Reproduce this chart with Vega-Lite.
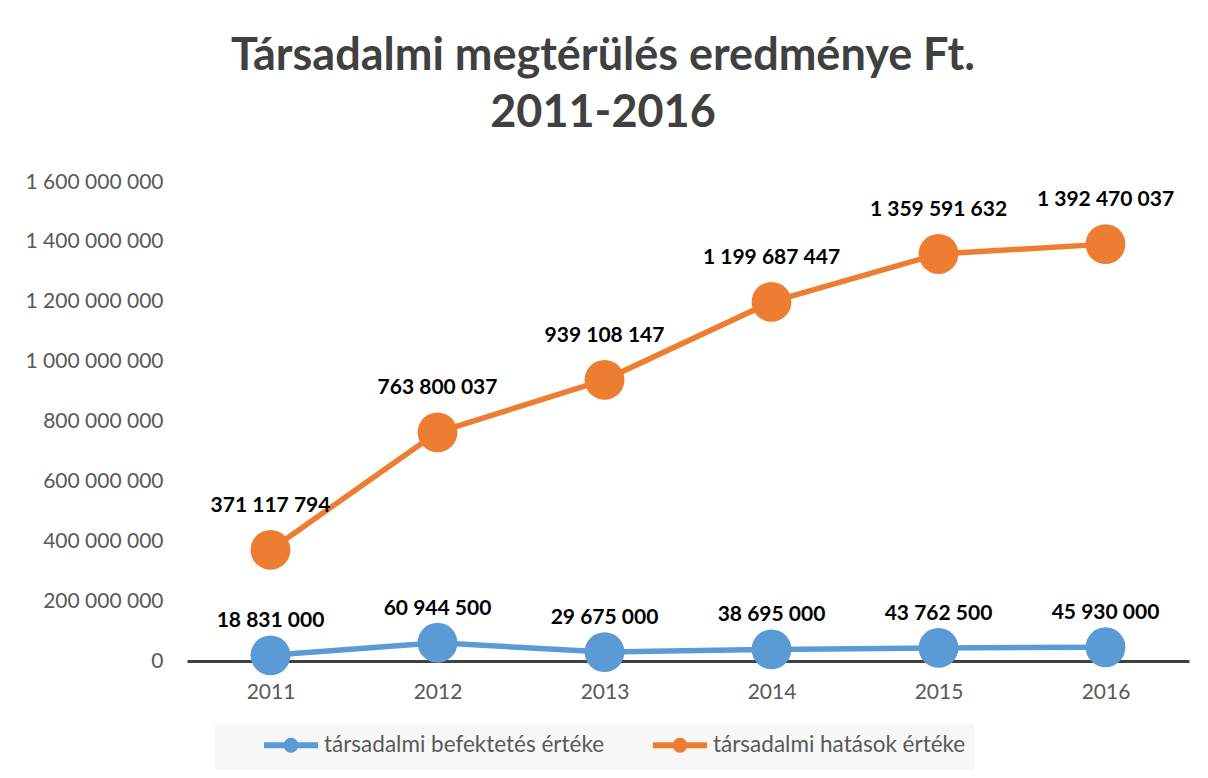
{
  "$schema": "https://vega.github.io/schema/vega-lite/v6.json",
  "width": 1002,
  "height": 479,
  "autosize": "none",
  "padding": {"left": 187, "top": 182, "right": 19, "bottom": 117},
  "background": "white",
  "title": {
    "text": ["Társadalmi megtérülés eredménye Ft.", "2011-2016"],
    "font": "Lato",
    "fontSize": 45,
    "fontWeight": "bold",
    "color": "#404040",
    "lineHeight": 57,
    "anchor": "middle",
    "dx": -85,
    "offset": 35
  },
  "config": {
    "locale": {"number": {"decimal": ",", "thousands": " ", "grouping": [3], "currency": ["", ""]}},
    "view": {"stroke": null},
    "font": "Lato"
  },
  "data": {
    "values": [
      {"year": "2011", "series": "társadalmi befektetés értéke", "value": 18831000},
      {"year": "2012", "series": "társadalmi befektetés értéke", "value": 60944500},
      {"year": "2013", "series": "társadalmi befektetés értéke", "value": 29675000},
      {"year": "2014", "series": "társadalmi befektetés értéke", "value": 38695000},
      {"year": "2015", "series": "társadalmi befektetés értéke", "value": 43762500},
      {"year": "2016", "series": "társadalmi befektetés értéke", "value": 45930000},
      {"year": "2011", "series": "társadalmi hatások értéke", "value": 371117794},
      {"year": "2012", "series": "társadalmi hatások értéke", "value": 763800037},
      {"year": "2013", "series": "társadalmi hatások értéke", "value": 939108147},
      {"year": "2014", "series": "társadalmi hatások értéke", "value": 1199687447},
      {"year": "2015", "series": "társadalmi hatások értéke", "value": 1359591632},
      {"year": "2016", "series": "társadalmi hatások értéke", "value": 1392470037}
    ]
  },
  "encoding": {
    "x": {
      "field": "year", "type": "ordinal",
      "scale": {"type": "point", "padding": 0.5},
      "axis": {
        "title": null, "labelAngle": 0, "ticks": false,
        "domainColor": "#404040", "domainWidth": 3,
        "labelFont": "Lato", "labelFontSize": 21, "labelColor": "#595959",
        "labelPadding": 20, "grid": false
      }
    },
    "y": {
      "field": "value", "type": "quantitative",
      "scale": {"domain": [0, 1600000000], "nice": false},
      "axis": {
        "title": null, "values": [0, 200000000, 400000000, 600000000, 800000000, 1000000000, 1200000000, 1400000000, 1600000000],
        "format": ",d", "domain": false, "ticks": false, "grid": false,
        "labelFont": "Lato", "labelFontSize": 21, "labelColor": "#595959",
        "labelPadding": 24
      }
    },
    "color": {
      "field": "series", "type": "nominal",
      "scale": {"domain": ["társadalmi befektetés értéke", "társadalmi hatások értéke"], "range": ["#5b9bd5", "#ed7d31"]},
      "legend": {
        "title": " ", "titleOrient": "left", "titlePadding": 38, "titleFontSize": 21,
        "orient": "none", "direction": "horizontal",
        "legendX": 28, "legendY": 542,
        "fillColor": "#f7f7f7", "padding": 8,
        "gridAlign": "all",
        "labelFont": "Lato", "labelFontSize": 22.5, "labelColor": "#595959",
        "labelLimit": 0,
        "labelOffset": 37, "columnPadding": 36,
        "symbolType": "M-1,0H4.4M2.15,0A0.45,0.45 0 1 1 1.25,0A0.45,0.45 0 1 1 2.15,0Z",
        "symbolSize": 400, "symbolStrokeWidth": 6,
        "encode": {
          "symbols": {
            "update": {
              "fill": {"scale": "color", "field": "value"},
              "stroke": {"scale": "color", "field": "value"},
              "strokeWidth": {"value": 6},
              "opacity": {"value": 1}
            }
          }
        }
      }
    }
  },
  "layer": [
    {"mark": {"type": "line", "strokeWidth": 5.5}},
    {"mark": {"type": "point", "filled": true, "size": 1590, "opacity": 1}},
    {
      "transform": [{"filter": "datum.series == 'társadalmi hatások értéke'"}],
      "mark": {"type": "text", "font": "Lato", "fontSize": 21, "fontWeight": "bold", "color": "black", "dy": -44},
      "encoding": {"text": {"field": "value", "type": "quantitative", "format": ",d"}, "color": {"value": "black"}}
    },
    {
      "transform": [{"filter": "datum.series == 'társadalmi befektetés értéke'"}],
      "mark": {"type": "text", "font": "Lato", "fontSize": 21, "fontWeight": "bold", "color": "black", "dy": -34},
      "encoding": {"text": {"field": "value", "type": "quantitative", "format": ",d"}, "color": {"value": "black"}}
    }
  ]
}
